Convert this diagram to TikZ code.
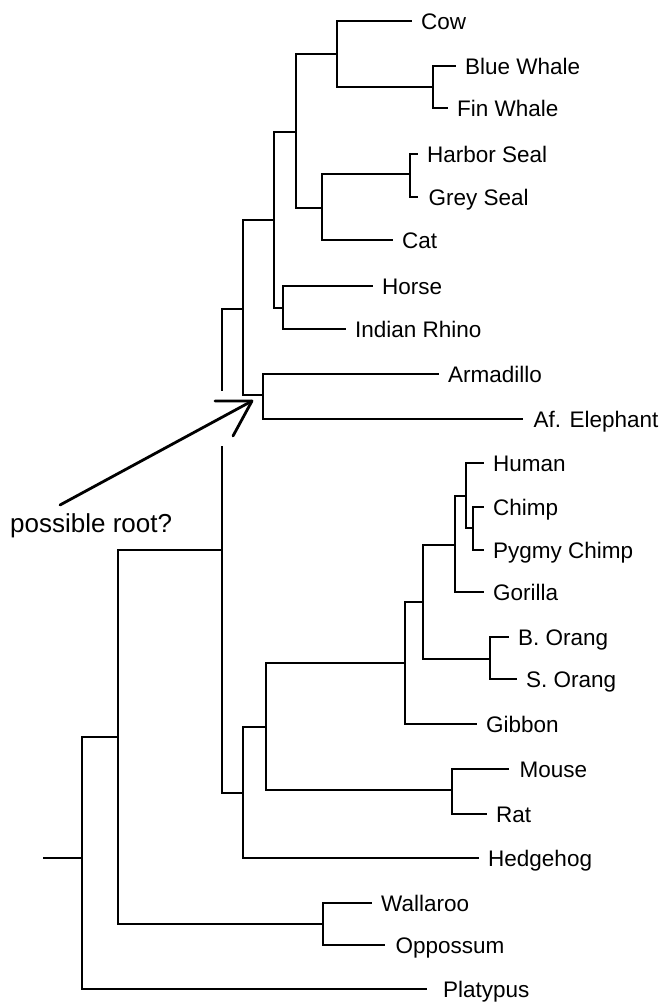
\documentclass[tikz,border=0pt]{standalone}
\usepackage{fontspec}
\setmainfont{Liberation Sans}
\begin{document}
\begin{tikzpicture}[x=1pt,y=-1pt,
  branch/.style={line width=2.3pt, line cap=rect},
  leaf/.style={anchor=west, inner xsep=10pt, inner ysep=0pt,
    text height=16pt, text depth=0pt, font=\fontsize{22.5}{27}\selectfont},
  note/.style={anchor=base west, inner sep=0pt, font=\fontsize{26}{31}\selectfont},
  pointer/.style={line width=2.8pt, line cap=round, line join=round},
]
\useasboundingbox (0,0) rectangle (664,1004);

% ---- taxa (nodes sit at the end of their branch) ----
\node[leaf] (cow)        at (411,21)  {Cow};
\node[leaf] (bluewhale)  at (455,66)  {Blue Whale};
\node[leaf] (finwhale)   at (447,108) {Fin Whale};
\node[leaf] (harborseal) at (417,154) {Harbor Seal};
\node[leaf, inner xsep=11.5pt] (greyseal) at (417,197) {Grey Seal};
\node[leaf] (cat)        at (392,240) {Cat};
\node[leaf] (horse)      at (372,286) {Horse};
\node[leaf] (rhino)      at (345,329) {Indian Rhino};
\node[leaf] (armadillo)  at (438,374) {Armadillo};
\node[leaf, inner xsep=11.5pt] (elephant) at (522,419) {Af. Elephant};
\node[leaf] (human)      at (483,463) {Human};
\node[leaf] (chimp)      at (483,507) {Chimp};
\node[leaf] (pygmy)      at (483,550) {Pygmy Chimp};
\node[leaf] (gorilla)    at (483,592) {Gorilla};
\node[leaf] (borang)     at (508,637) {B. Orang};
\node[leaf] (sorang)     at (516,679) {S. Orang};
\node[leaf] (gibbon)     at (476,724) {Gibbon};
\node[leaf, inner xsep=11.5pt] (mouse) at (508,769) {Mouse};
\node[leaf] (rat)        at (486,814) {Rat};
\node[leaf] (hedgehog)   at (478,858) {Hedgehog};
\node[leaf] (wallaroo)   at (371,903) {Wallaroo};
\node[leaf, inner xsep=11.5pt] (oppossum) at (384,945) {Oppossum};
\node[leaf, inner xsep=17pt] (platypus) at (426,989) {Platypus};

% ---- internal nodes ----
\coordinate (nWh)      at (433,87);
\coordinate (nCowWh)   at (337,54);
\coordinate (nSeal)    at (410,174);
\coordinate (nCarn)    at (322,208);
\coordinate (nCetCarn) at (296,132);
\coordinate (nPeris)   at (283,308);
\coordinate (nLaur)    at (274,220);
\coordinate (nAfroX)   at (263,395);
\coordinate (nUpper)   at (243,309);
\coordinate (gapHigh)  at (222,390);
\coordinate (gapLow)   at (222,447);
\coordinate (nPlac)    at (222,550);
\coordinate (nChimps)  at (473,528);
\coordinate (nHC)      at (466,496);
\coordinate (nAfrApes) at (455,545);
\coordinate (nOrang)   at (490,659);
\coordinate (nGA)      at (423,602);
\coordinate (nPrim)    at (405,663);
\coordinate (nRod)     at (452,790);
\coordinate (nPrimRod) at (266,727);
\coordinate (nLower)   at (243,793);
\coordinate (nMars)    at (323,924);
\coordinate (nMam)     at (118,737);
\coordinate (nRoot)    at (82,858);
\coordinate (stub)     at (44,858);

% ---- branches ----
\begin{scope}[branch]
  \draw (nWh) |- (bluewhale.west);  \draw (nWh) |- (finwhale.west);
  \draw (nCowWh) |- (cow.west);     \draw (nCowWh) |- (nWh);
  \draw (nSeal) |- (harborseal.west); \draw (nSeal) |- (greyseal.west);
  \draw (nCarn) |- (nSeal);         \draw (nCarn) |- (cat.west);
  \draw (nCetCarn) |- (nCowWh);     \draw (nCetCarn) |- (nCarn);
  \draw (nPeris) |- (horse.west);   \draw (nPeris) |- (rhino.west);
  \draw (nLaur) |- (nCetCarn);      \draw (nLaur) |- (nPeris);
  \draw (nAfroX) |- (armadillo.west); \draw (nAfroX) |- (elephant.west);
  \draw (nUpper) |- (nLaur);        \draw (nUpper) |- (nAfroX);
  \draw (gapHigh) |- (nUpper);      \draw (nPlac) -- (gapLow);
  \draw (nPlac) |- (nLower);
  \draw (nChimps) |- (chimp.west);  \draw (nChimps) |- (pygmy.west);
  \draw (nHC) |- (human.west);      \draw (nHC) |- (nChimps);
  \draw (nAfrApes) |- (nHC);        \draw (nAfrApes) |- (gorilla.west);
  \draw (nOrang) |- (borang.west);  \draw (nOrang) |- (sorang.west);
  \draw (nGA) |- (nAfrApes);        \draw (nGA) |- (nOrang);
  \draw (nPrim) |- (nGA);           \draw (nPrim) |- (gibbon.west);
  \draw (nRod) |- (mouse.west);     \draw (nRod) |- (rat.west);
  \draw (nPrimRod) |- (nPrim);      \draw (nPrimRod) |- (nRod);
  \draw (nLower) |- (nPrimRod);     \draw (nLower) |- (hedgehog.west);
  \draw (nMars) |- (wallaroo.west); \draw (nMars) |- (oppossum.west);
  \draw (nMam) |- (nPlac);          \draw (nMam) |- (nMars);
  \draw (nRoot) |- (nMam);          \draw (nRoot) |- (platypus.west);
  \draw (stub) -- (nRoot);
\end{scope}

% ---- annotation: hand-drawn open arrow ----
\node[note] (rootnote) at (10,532) {possible root?};
\coordinate (arrowtail) at (60,505);
\coordinate (arrowtip)  at (252,401);
\coordinate (barbA)     at (215,401);
\coordinate (barbB)     at (233,436);
\draw[pointer] (arrowtail) -- (arrowtip);
\draw[pointer] (barbA) -- (arrowtip) -- (barbB);
\end{tikzpicture}
\end{document}
